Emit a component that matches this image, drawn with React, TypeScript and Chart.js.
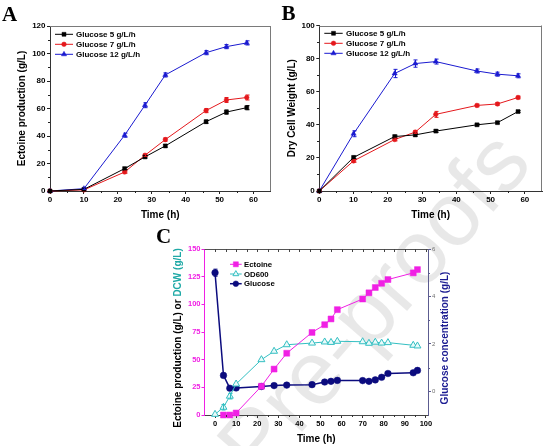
import React, { useEffect, useRef } from 'react';
import { Chart, registerables } from 'chart.js';

Chart.register(...registerables);

// ---------- Panels A & B ----------
const timeAB = [0, 10, 22, 28, 34, 46, 52, 58];
const seriesLabelsAB = ['Glucose 5 g/L/h', 'Glucose 7 g/L/h', 'Glucose 12 g/L/h'];

const ectoine5 = [0, 1.2, 16.3, 24.8, 32.8, 50.4, 57.4, 60.6];
const ectoine7 = [0, 0.8, 13.8, 26, 37.4, 58.5, 66.2, 68];
const ectoine12 = [0, 1.7, 40.6, 62.4, 84.4, 100.6, 105, 107.7];
const ectoineErr5 = [0, 0, 0.8, 0.8, 1, 1.2, 1.5, 1.5];
const ectoineErr7 = [0, 0, 0.8, 0.8, 1.2, 1.5, 1.8, 1.8];
const ectoineErr12 = [0, 0.6, 1.5, 1.8, 1.5, 1.5, 1.5, 1.5];

const dcw5 = [0, 20.3, 32.9, 33.9, 36.2, 40, 41.3, 48];
const dcw7 = [0, 18.2, 31.1, 35.6, 46.3, 51.7, 52.6, 56.5];
const dcw12 = [0, 34.6, 71, 77, 78.2, 72.5, 70.6, 69.6];
const dcwErr5 = [0, 0.8, 0.8, 0.8, 0.8, 0.6, 0.6, 0.6];
const dcwErr7 = [0, 0.8, 0.8, 0.8, 1.8, 0.8, 0.8, 0.8];
const dcwErr12 = [0, 1.8, 2.5, 2.2, 1.5, 1.2, 1.2, 1.2];

const xTicksAB = [0, 10, 20, 30, 40, 50, 60];
const yTicksA = [0, 20, 40, 60, 80, 100, 120];
const yTicksB = [0, 20, 40, 60, 80, 100];

// ---------- Panel C ----------
const timeC = [0, 4, 7, 10, 22, 28, 34, 46, 52, 55, 58, 70, 73, 76, 79, 82, 94, 96];
const timeEctoineC = [4, 7, 10, 22, 28, 34, 46, 52, 55, 58, 70, 73, 76, 79, 82, 94, 96];
const ectoineC = [0, 0, 1.8, 26, 41.5, 55.8, 74.6, 81.6, 86.8, 95.2, 104.8, 110.4, 115.2, 119, 122.4, 128.4, 131.4];
const od600C = [0.6, 7, 17, 28, 50, 57.6, 63.5, 65, 66, 65.6, 66.6, 66.2, 64.8, 65.8, 65, 65.4, 63, 62.4];
const od600ErrC = [0, 2.5, 2.5, 0, 0, 0, 0, 0, 0, 0, 0, 0, 0, 0, 0, 0, 0, 0];
const glucoseC = [5.0, 0.67, 0.13, 0.14, 0.2, 0.24, 0.26, 0.28, 0.39, 0.42, 0.46, 0.45, 0.42, 0.48, 0.59, 0.75, 0.78, 0.88];
const glucoseErrC = [0.15, 0, 0, 0, 0, 0, 0, 0, 0, 0, 0, 0, 0, 0, 0, 0, 0, 0];
const seriesLabelsC = ['Ectoine', 'OD600', 'Glucose'];

const xTicksC = [0, 10, 20, 30, 40, 50, 60, 70, 80, 90, 100];
const xTopTicksC = [0, 5, 10, 15, 20, 25, 30, 35, 40, 45, 50, 55, 60, 65, 70, 75, 80, 85, 90, 95, 100];
const yTicksC = [0, 25, 50, 75, 100, 125, 150];
const y1TicksC = [0, 2, 4, 6];

// ---------- styles ----------
const FONT = '"Liberation Sans", Arial, Helvetica, sans-serif';
const BLACK = '#000000';
const RED = '#e4181c';
const BLUE = '#1a1ad0';
const MAGENTA = '#f020e4';
const CYAN = '#33bfc2';
const NAVY = '#0b0b7e';
const SLATE = '#5c5c90';
const TEAL = '#1fa9a6';

const midpoints = (arr: number[]) => arr.slice(1).map((v, i) => (v + arr[i]) / 2);

function drawMarker(ctx: CanvasRenderingContext2D, style: string, x: number, y: number, r: number, fill: string, stroke: string, lw: number) {
  ctx.beginPath();
  if (style === 'rect') {
    const s = r * Math.SQRT1_2;
    ctx.rect(x - s, y - s, 2 * s, 2 * s);
  } else if (style === 'triangle') {
    for (let k = 0; k < 3; k++) {
      const a = -Math.PI / 2 + (k * 2 * Math.PI) / 3;
      const px = x + Math.cos(a) * r;
      const py = y + Math.sin(a) * r;
      if (k === 0) ctx.moveTo(px, py);
      else ctx.lineTo(px, py);
    }
  } else {
    ctx.arc(x, y, r, 0, Math.PI * 2);
  }
  ctx.closePath();
  ctx.fillStyle = fill;
  ctx.fill();
  if (lw > 0) {
    ctx.lineWidth = lw;
    ctx.strokeStyle = stroke;
    ctx.stroke();
  }
}

type TickSpec = { scale: string; values: number[]; side: 'bottom' | 'top' | 'left' | 'right'; len: number; color: string };

function tickMarks(specs: TickSpec[]) {
  return {
    id: 'tickMarks',
    afterDraw(chart: any) {
      const { ctx, chartArea: a } = chart;
      ctx.save();
      ctx.lineWidth = 1;
      specs.forEach((sp) => {
        const sc = chart.scales[sp.scale];
        ctx.strokeStyle = sp.color;
        ctx.beginPath();
        sp.values.forEach((v) => {
          const p = Math.round(sc.getPixelForValue(v)) + 0.5;
          if (sp.side === 'bottom') {
            const b = Math.round(a.bottom);
            ctx.moveTo(p, b);
            ctx.lineTo(p, b + sp.len);
          } else if (sp.side === 'top') {
            const t = Math.round(a.top);
            ctx.moveTo(p, t);
            ctx.lineTo(p, t + sp.len);
          } else if (sp.side === 'left') {
            const l = Math.round(a.left);
            ctx.moveTo(l, p);
            ctx.lineTo(l - sp.len, p);
          } else {
            const r = Math.round(a.right);
            ctx.moveTo(r, p);
            ctx.lineTo(r + sp.len, p);
          }
        });
        ctx.stroke();
      });
      ctx.restore();
    },
  };
}

function frame(sides: string[], color: string) {
  return {
    id: 'frame',
    afterDraw(chart: any) {
      const { ctx, chartArea: a } = chart;
      ctx.save();
      ctx.strokeStyle = color;
      ctx.lineWidth = 1;
      ctx.beginPath();
      const t = Math.round(a.top) + 0.5;
      const r = Math.round(a.right) - 0.5;
      if (sides.includes('top')) {
        ctx.moveTo(a.left, t);
        ctx.lineTo(a.right, t);
      }
      if (sides.includes('right')) {
        ctx.moveTo(r, a.top);
        ctx.lineTo(r, a.bottom);
      }
      ctx.stroke();
      ctx.restore();
    },
  };
}

const errorBars = {
  id: 'errorBars',
  afterDatasetsDraw(chart: any) {
    const ctx = chart.ctx;
    chart.data.datasets.forEach((ds: any, i: number) => {
      const errs: number[] | undefined = ds.errors;
      if (!errs) return;
      const meta = chart.getDatasetMeta(i);
      const ys = chart.scales[meta.yAxisID];
      ctx.save();
      ctx.strokeStyle = ds.borderColor;
      ctx.lineWidth = 1;
      meta.data.forEach((pt: any, j: number) => {
        const e = errs[j];
        if (!e) return;
        const v = ds.data[j].y;
        const y1 = ys.getPixelForValue(v + e);
        const y2 = ys.getPixelForValue(v - e);
        const x = Math.round(pt.x) + 0.5;
        ctx.beginPath();
        ctx.moveTo(x, y1);
        ctx.lineTo(x, y2);
        ctx.moveTo(x - 2, y1);
        ctx.lineTo(x + 2, y1);
        ctx.moveTo(x - 2, y2);
        ctx.lineTo(x + 2, y2);
        ctx.stroke();
      });
      ctx.restore();
    });
  },
};

function insideLegend(x0: number, y0: number, rowH: number, lineLen: number, gap: number, fontSize: number, scale: number) {
  return {
    id: 'insideLegend',
    afterDraw(chart: any) {
      const ctx = chart.ctx;
      chart.data.datasets.forEach((ds: any, i: number) => {
        const y = y0 + i * rowH;
        ctx.save();
        ctx.strokeStyle = ds.borderColor;
        ctx.lineWidth = ds.borderWidth;
        ctx.beginPath();
        ctx.moveTo(x0, y);
        ctx.lineTo(x0 + lineLen, y);
        ctx.stroke();
        drawMarker(ctx, ds.pointStyle, x0 + lineLen / 2, y, ds.pointRadius * scale, ds.pointBackgroundColor, ds.pointBorderColor, ds.pointBorderWidth);
        ctx.fillStyle = '#000';
        ctx.font = `bold ${fontSize}px ${FONT}`;
        ctx.textBaseline = 'middle';
        ctx.textAlign = 'left';
        ctx.fillText(ds.label, x0 + lineLen + gap, y + 0.5);
        ctx.restore();
      });
    },
  };
}

const tickFont = { family: FONT, size: 8, weight: 'bold' as const };
const titleFont = { family: FONT, size: 10, weight: 'bold' as const, lineHeight: 1.2 };

function setTicks(values: number[]) {
  return (s: any) => {
    s.ticks = values.map((v) => ({ value: v }));
  };
}

function configAB(panel: 'A' | 'B'): any {
  const isA = panel === 'A';
  const values = isA ? [ectoine5, ectoine7, ectoine12] : [dcw5, dcw7, dcw12];
  const errs = isA ? [ectoineErr5, ectoineErr7, ectoineErr12] : [dcwErr5, dcwErr7, dcwErr12];
  const yTicks = isA ? yTicksA : yTicksB;
  const colors = [BLACK, RED, BLUE];
  const styles = ['rect', 'circle', 'triangle'];
  const radii = [2.8, 2.3, 3];
  const datasets = values.map((vals, k) => ({
    label: seriesLabelsAB[k],
    data: timeAB.map((t, i) => ({ x: t, y: vals[i] })),
    errors: errs[k],
    borderColor: colors[k],
    backgroundColor: colors[k],
    borderWidth: 1,
    pointStyle: styles[k],
    pointRadius: radii[k],
    pointBackgroundColor: colors[k],
    pointBorderColor: colors[k],
    pointBorderWidth: 0.5,
    tension: 0,
    clip: false,
  }));
  const yWidth = isA ? 50 : 44.3;
  const yTitlePad = isA ? 16.7 : 11.5;
  return {
    type: 'line',
    data: { datasets },
    options: {
      animation: false,
      responsive: false,
      devicePixelRatio: 1,
      layout: { padding: { top: isA ? 26 : 25.5, right: isA ? 4 : 5, left: 0, bottom: 0 } },
      plugins: { legend: { display: false }, tooltip: { enabled: false } },
      scales: {
        x: {
          type: 'linear',
          min: 0,
          max: 65,
          afterBuildTicks: setTicks(xTicksAB),
          afterFit: (s: any) => {
            s.height = 34;
          },
          grid: { drawOnChartArea: false, drawTicks: true, tickLength: 3, tickColor: '#222', tickWidth: 1 },
          border: { display: true, color: '#333', width: 1 },
          ticks: { font: tickFont, color: '#000', padding: 1, maxRotation: 0, autoSkip: false },
          title: { display: true, text: 'Time (h)', font: titleFont, color: '#000', padding: { top: 0, bottom: 4 } },
        },
        y: {
          type: 'linear',
          min: 0,
          max: isA ? 120 : 100,
          afterBuildTicks: setTicks(yTicks),
          afterFit: (s: any) => {
            s.width = yWidth;
          },
          grid: { drawOnChartArea: false, drawTicks: true, tickLength: 3, tickColor: '#222', tickWidth: 1 },
          border: { display: true, color: '#333', width: 1 },
          ticks: { font: tickFont, color: '#000', padding: 1.5, autoSkip: false },
          title: {
            display: true,
            text: isA ? 'Ectoine production (g/L)' : 'Dry Cell Weight (g/L)',
            font: titleFont,
            color: '#000',
            padding: { top: yTitlePad, bottom: 0 },
          },
        },
      },
    },
    plugins: [
      frame(['top', 'right'], '#7a7a7a'),
      tickMarks([
        { scale: 'x', values: midpoints(xTicksAB), side: 'bottom', len: 2, color: '#222' },
        { scale: 'y', values: midpoints(yTicks), side: 'left', len: 2, color: '#222' },
      ]),
      errorBars,
      isA ? insideLegend(55, 34.3, 10, 18, 3, 8, 1) : insideLegend(49.3, 33.3, 10, 18.4, 3.3, 8, 1),
    ],
  };
}

const cTitles = {
  id: 'cTitles',
  afterDraw(chart: any) {
    const { ctx, chartArea: a } = chart;
    const cy = (a.top + a.bottom) / 2 + 6;
    ctx.save();
    ctx.font = `bold 10px ${FONT}`;
    ctx.textBaseline = 'middle';
    ctx.textAlign = 'left';
    // left two-colour title
    const p1 = 'Ectoine production (g/L) or ';
    const p2 = 'DCW (g/L)';
    const w1 = ctx.measureText(p1).width;
    const w2 = ctx.measureText(p2).width;
    ctx.save();
    ctx.translate(28.3, cy);
    ctx.rotate(-Math.PI / 2);
    const start = -(w1 + w2) / 2;
    ctx.fillStyle = '#000';
    ctx.fillText(p1, start, 0);
    ctx.fillStyle = TEAL;
    ctx.fillText(p2, start + w1, 0);
    ctx.restore();
    // right title
    const rt = 'Glucose concentration (g/L)';
    const wr = ctx.measureText(rt).width;
    ctx.save();
    ctx.translate(295.2, cy);
    ctx.rotate(-Math.PI / 2);
    ctx.fillStyle = '#1c1c92';
    ctx.fillText(rt, -wr / 2, 0);
    ctx.restore();
    ctx.restore();
  },
};

function configC(): any {
  const datasets = [
    {
      label: seriesLabelsC[0],
      data: timeEctoineC.map((t, i) => ({ x: t, y: ectoineC[i] })),
      yAxisID: 'y',
      borderColor: MAGENTA,
      backgroundColor: MAGENTA,
      borderWidth: 1,
      pointStyle: 'rect',
      pointRadius: 4.2,
      pointBackgroundColor: MAGENTA,
      pointBorderColor: MAGENTA,
      pointBorderWidth: 0.5,
      tension: 0,
      clip: false,
    },
    {
      label: seriesLabelsC[1],
      data: timeC.map((t, i) => ({ x: t, y: od600C[i] })),
      errors: od600ErrC,
      yAxisID: 'y',
      borderColor: CYAN,
      backgroundColor: CYAN,
      borderWidth: 1,
      pointStyle: 'triangle',
      pointRadius: 4,
      pointBackgroundColor: '#eafafa',
      pointBorderColor: CYAN,
      pointBorderWidth: 1,
      tension: 0,
      clip: false,
    },
    {
      label: seriesLabelsC[2],
      data: timeC.map((t, i) => ({ x: t, y: glucoseC[i] })),
      errors: glucoseErrC,
      yAxisID: 'y1',
      borderColor: NAVY,
      backgroundColor: NAVY,
      borderWidth: 1.5,
      pointStyle: 'circle',
      pointRadius: 3.3,
      pointBackgroundColor: NAVY,
      pointBorderColor: NAVY,
      pointBorderWidth: 0.5,
      tension: 0,
      clip: false,
    },
  ];
  return {
    type: 'line',
    data: { datasets },
    options: {
      animation: false,
      responsive: false,
      devicePixelRatio: 1,
      layout: { padding: { top: 24, right: 2, left: 0, bottom: 0 } },
      plugins: { legend: { display: false }, tooltip: { enabled: false } },
      scales: {
        x: {
          type: 'linear',
          min: -5,
          max: 101,
          afterBuildTicks: setTicks(xTicksC),
          afterFit: (s: any) => {
            s.height = 31;
          },
          grid: { drawOnChartArea: false, drawTicks: true, tickLength: 3, tickColor: '#333', tickWidth: 1 },
          border: { display: true, color: '#444', width: 1 },
          ticks: { font: { family: FONT, size: 7.5, weight: 'bold' }, color: '#000', padding: 1, maxRotation: 0, autoSkip: false },
          title: { display: true, text: 'Time (h)', font: titleFont, color: '#000', padding: { top: 0, bottom: 1 } },
        },
        y: {
          type: 'linear',
          position: 'left',
          min: 0,
          max: 150,
          afterBuildTicks: setTicks(yTicksC),
          afterFit: (s: any) => {
            s.width = 54.5;
          },
          grid: { drawOnChartArea: false, drawTicks: true, tickLength: 3, tickColor: MAGENTA, tickWidth: 1 },
          border: { display: true, color: MAGENTA, width: 1 },
          ticks: { font: { family: FONT, size: 7.5, weight: 'bold' }, color: MAGENTA, padding: 1, autoSkip: false },
          title: { display: false },
        },
        y1: {
          type: 'linear',
          position: 'right',
          min: -1,
          max: 6,
          afterBuildTicks: setTicks(y1TicksC),
          afterFit: (s: any) => {
            s.width = 30;
          },
          grid: { drawOnChartArea: false, drawTicks: true, tickLength: 3, tickColor: SLATE, tickWidth: 1 },
          border: { display: true, color: SLATE, width: 1 },
          ticks: { font: { family: FONT, size: 6 }, color: '#707070', padding: 1, autoSkip: false },
          title: { display: false },
        },
      },
    },
    plugins: [
      frame(['top'], '#555'),
      tickMarks([
        { scale: 'x', values: xTopTicksC, side: 'top', len: 3, color: '#444' },
        { scale: 'x', values: midpoints(xTicksC), side: 'bottom', len: 2, color: '#333' },
        { scale: 'y1', values: midpoints(y1TicksC), side: 'right', len: 2, color: SLATE },
      ]),
      errorBars,
      insideLegend(80, 39.3, 9.7, 11.7, 2.3, 7.8, 0.85),
      cTitles,
    ],
  };
}

function ChartCanvas(props: { make: () => any; left: number; top: number; width: number; height: number }) {
  const ref = useRef<HTMLCanvasElement>(null);
  useEffect(() => {
    const chart = new Chart(ref.current as HTMLCanvasElement, props.make());
    return () => chart.destroy();
  }, []);
  return (
    <canvas
      ref={ref}
      width={props.width}
      height={props.height}
      style={{ position: 'absolute', left: props.left, top: props.top, width: props.width, height: props.height, zIndex: 1 }}
    />
  );
}

const letterStyle: React.CSSProperties = {
  position: 'absolute',
  fontFamily: '"Liberation Serif", "Times New Roman", serif',
  fontWeight: 'bold',
  fontSize: 21,
  lineHeight: 1,
  color: '#000',
  zIndex: 2,
};

export default function App() {
  return (
    <div style={{ position: 'absolute', left: 0, top: 0, width: 547, height: 446, background: '#fff', overflow: 'hidden' }}>
      <div
        style={{
          position: 'absolute',
          left: 373,
          top: 303,
          transform: 'translate(-50%, -50%) rotate(-49deg)',
          fontFamily: FONT,
          fontSize: 90,
          lineHeight: 1,
          whiteSpace: 'nowrap',
          color: 'rgba(0,0,0,0.09)',
          zIndex: 0,
        }}
      >
        Pre-proofs
      </div>
      <ChartCanvas make={() => configAB('A')} left={0} top={0} width={275} height={225} />
      <ChartCanvas make={() => configAB('B')} left={275} top={0} width={272} height={225} />
      <ChartCanvas make={configC} left={150} top={225} width={310} height={221} />
      <div style={{ ...letterStyle, left: 2, top: 4 }}>A</div>
      <div style={{ ...letterStyle, left: 281.5, top: 3.4 }}>B</div>
      <div style={{ ...letterStyle, left: 156, top: 225.7 }}>C</div>
    </div>
  );
}
